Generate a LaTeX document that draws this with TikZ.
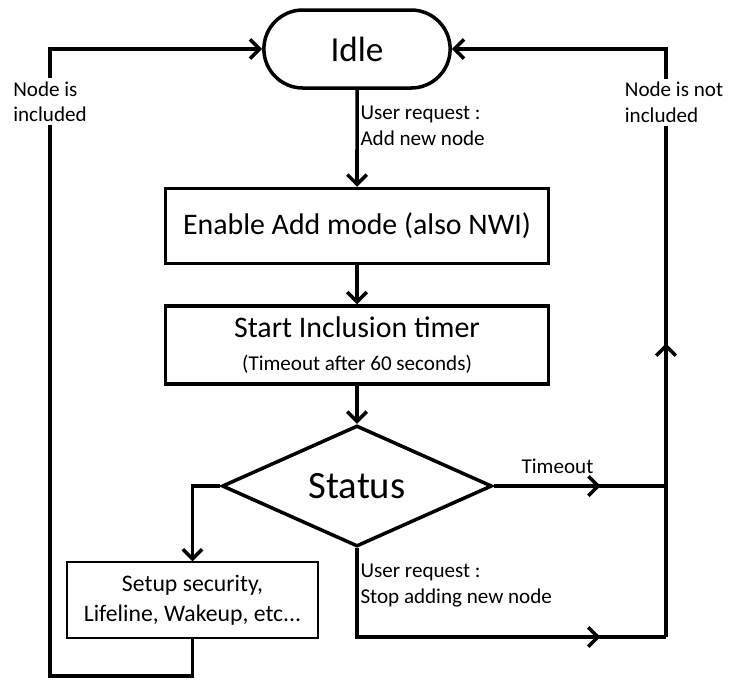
\documentclass[tikz,border=0pt]{standalone}
\usepackage{fontspec}
\setmainfont{Carlito}
\usetikzlibrary{shapes}
\usetikzlibrary {positioning}
\usetikzlibrary{arrows.meta,decorations.markings}

\begin{document}
\begin{tikzpicture}[-{Straight Barb[length=5.5pt,width=11pt]} ,node distance =2.4cm and 3cm ,on grid ,
    line width=2pt ,
    term/.style ={rounded rectangle ,draw ,minimum width =3.96cm ,minimum height =1.56cm ,font=\fontsize{20}{24}\selectfont},
    proc/.style ={rectangle ,draw ,minimum width =7.66cm ,minimum height =1.5cm ,align=center},
    dec/.style ={diamond ,draw ,aspect =2.2 ,inner sep =0pt ,minimum width =5.4cm ,minimum height =2.42cm ,font=\fontsize{22}{26}\selectfont},
    sub/.style ={rectangle ,draw ,line width =0.8pt ,minimum width =5.02cm ,minimum height =1.52cm ,align=center ,font=\fontsize{13.5}{17}\selectfont},
    lbl/.style ={align=left ,inner sep =1pt ,font=\fontsize{12}{14.5}\selectfont},
    gap/.style ={lbl ,fill=white ,inner sep =2pt},
    mid/.style ={postaction={decorate} ,decoration={markings ,mark=at position #1 with {\arrow{Straight Barb[length=5.5pt,width=11pt]}}}}]
    \useasboundingbox (-7.14,0.98) rectangle (7.48,-12.66);
    \node[term] (idle) {Idle};
    \node[proc ,font=\fontsize{17}{20}\selectfont] (enable) [below =3.54cm of idle] {Enable Add mode (also NWI)};
    \node[proc ,minimum height =1.56cm] (start) [below =2.38cm of enable] {%
      {\fontsize{17}{20}\selectfont Start Inclusion timer}\\[7pt]
      {\fontsize{12}{14}\selectfont (Timeout after 60 seconds)}%
      };
    \node[dec] (status) [below =2.82cm of start] {Status};
    \node[sub] (setup) [below left =2.28cm and 3.29cm of status] {Setup security,\\Lifeline, Wakeup, etc...};
    \coordinate [right =6.18cm of status] (tjoin);
    \coordinate [below =3.02cm of tjoin] (sjoin);
    \coordinate [below left =3.8cm and 6.14cm of status] (ljoin);

    \path (idle) edge node [lbl ,anchor=west ,pos=0.37] {User request :\\Add new node} (enable)
          (enable) edge (start)
          (start) edge (status);
    \draw[- ,mid=0.62] (status.east) -- node [lbl ,above =5pt ,pos=0.37] {Timeout} (tjoin);
    \draw[- ,mid=0.835] (status.south) |- node [lbl ,anchor=west ,pos=0.21] {User request :\\Stop adding new node} (sjoin);
    \draw[mid=0.366] (sjoin) -- (tjoin) |- node [gap ,pos=0.439 ,xshift=0.16cm] {Node is not\\included} (idle.east);
    \draw (status.west) -| (setup.north);
    \draw (setup.south) |- (ljoin) |- node [gap ,pos=0.458] {Node is\\included} (idle.west);

\end{tikzpicture}
\end{document}
